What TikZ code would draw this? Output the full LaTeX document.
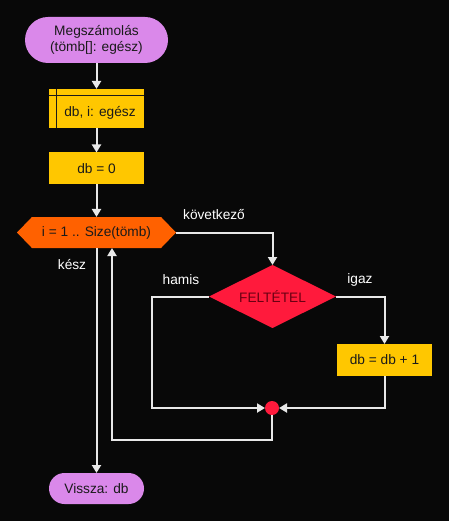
\documentclass[tikz,border=0pt]{standalone}
\usepackage{fontspec}
\setmainfont{Liberation Sans}
\usetikzlibrary{arrows.meta,shapes.geometric,shapes.symbols}
\definecolor{bg}{HTML}{080808}
\definecolor{termc}{HTML}{DA88EA}
\definecolor{procc}{HTML}{FFC700}
\definecolor{loopc}{HTML}{FF6100}
\definecolor{condc}{HTML}{FF1A3C}
\definecolor{linec}{HTML}{E8E8E8}
\definecolor{darktxt}{HTML}{1A1A1A}
\definecolor{condtxt}{HTML}{6A0012}
\tikzset{
  base/.style={inner sep=0pt, outer sep=0pt, font=\fontsize{13.7}{16}\selectfont, text=darktxt, align=center},
  term/.style={base, fill=termc, rectangle},
  proc/.style={base, fill=procc, rectangle},
  loopnode/.style={base, fill=loopc, signal, signal to=west and east, signal pointer angle=92, minimum width=159, minimum height=31},
  condnode/.style={base, fill=condc, diamond, aspect=2, minimum width=127, minimum height=63, text=condtxt},
  joinnode/.style={circle, fill=condc, minimum size=14, inner sep=0pt, outer sep=0pt},
  lbl/.style={inner sep=0pt, font=\fontsize{13.7}{16}\selectfont, text=white},
  arr/.style={draw=linec, line width=2pt, -{Triangle[width=9pt,length=8pt]}},
  ln/.style={draw=linec, line width=2pt},
}
\begin{document}
\begin{tikzpicture}[x=1pt,y=-1pt]
\useasboundingbox[fill=bg] (0,0) rectangle (449,521);
\node[term, minimum width=143, minimum height=46, rounded corners=23] (start) at (96.5,40) {Megszámolás\\(tömb[]: egész)};
\node[proc, minimum width=95, minimum height=39] (decl) at (96.5,108.5) {};
\draw[darktxt, line width=1pt] ([xshift=7]decl.north west) -- ([xshift=7]decl.south west);
\draw[darktxt, line width=1pt] ([yshift=-7]decl.north west) -- ([yshift=-7]decl.north east);
\node[base] (decltxt) at (100,113) {db, i: egész};
\node[proc, minimum width=95, minimum height=32] (d0) at (96.5,168.5) {db = 0};
\node[loopnode] (loop) at (96.5,232.5) {i = 1 .. Size(tömb)};
\node[condnode] (cond) at (272.5,296.5) {FELTÉTEL};
\node[proc, minimum width=95, minimum height=32] (inc) at (384.5,360) {db = db + 1};
\node[joinnode] (join) at (272,408) {};
\node[term, minimum width=95, minimum height=31, rounded corners=15.5] (end) at (96.5,488.5) {Vissza: db};
\coordinate (hl) at (152,296.5);
\coordinate (back) at (112,440);
\draw[arr] (start) -- (decl);
\draw[arr] (decl) -- (d0);
\draw[arr] (d0) -- (loop);
\draw[arr] (loop.east) -| (cond.north);
\draw[arr] (cond.east) -| (inc.north);
\draw[arr] (inc.south) |- (join.east);
\draw[arr] (cond.west) -- (hl) |- (join.west);
\draw[arr] (join.south) |- (back) -- (back |- loop.south);
\draw[arr] (loop.south) -- (end.north);
\node[lbl] (lk) at (214,215) {következő};
\node[lbl] (li) at (360,280) {igaz};
\node[lbl] (lh) at (181,280) {hamis};
\node[lbl] (lz) at (72,265) {kész};
\end{tikzpicture}
\end{document}
